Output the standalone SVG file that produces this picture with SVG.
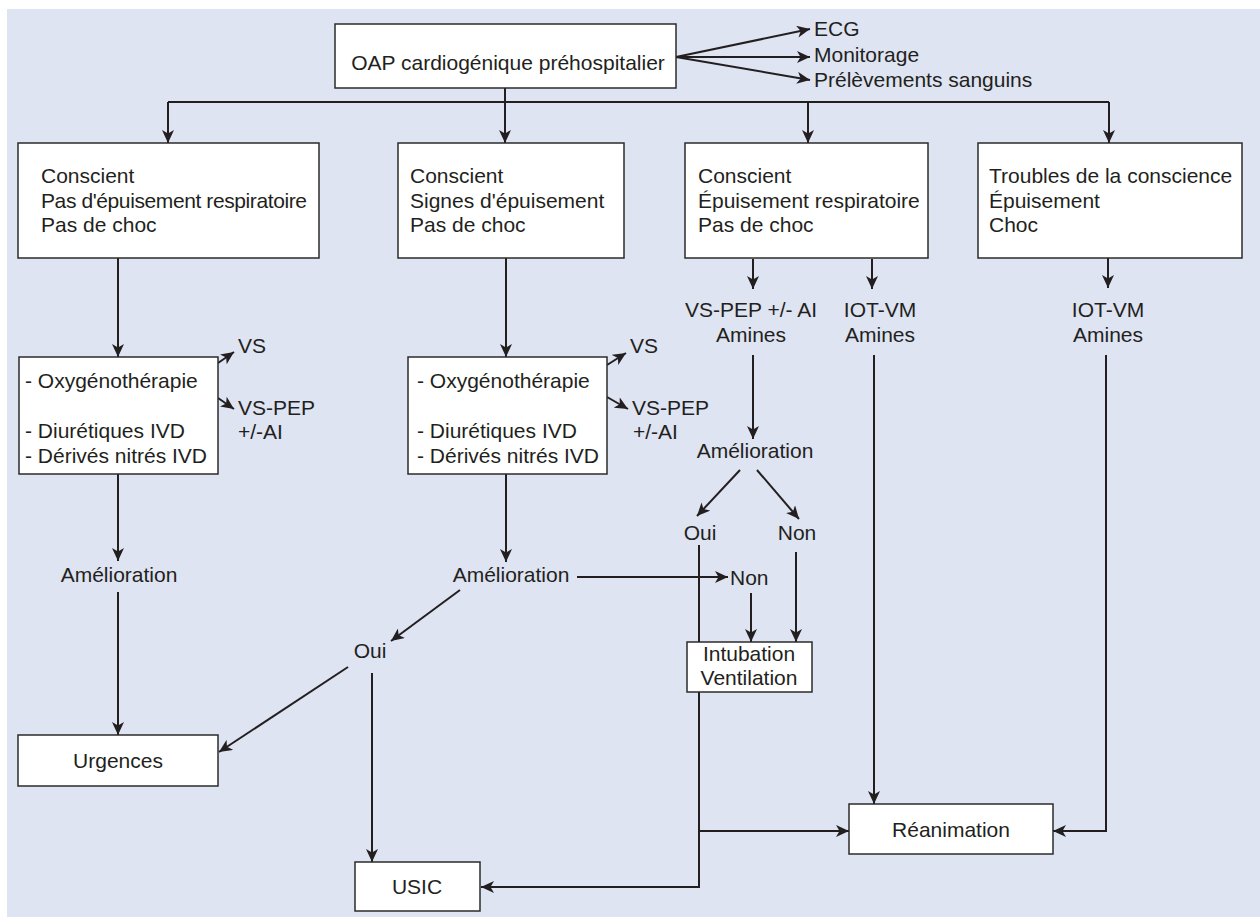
<svg xmlns="http://www.w3.org/2000/svg" width="1260" height="917" viewBox="0 0 1260 917">
<style>
.bg{fill:#dee4f2}
.box{fill:#ffffff;stroke:#2b2b2b;stroke-width:1.5}
.t{font-family:"Liberation Sans",Arial,Helvetica,sans-serif;font-size:21px;fill:#231f20}
.c{text-anchor:middle}
.ln{fill:none;stroke:#231f20;stroke-width:2;marker-end:url(#ah)}
.pl{fill:none;stroke:#231f20;stroke-width:2}
</style>
<defs>
<marker id="ah" markerUnits="userSpaceOnUse" markerWidth="14" markerHeight="12" refX="13" refY="6" orient="auto">
<path d="M0,0 L13,6 L0,12 L3.5,6 z" fill="#231f20"/>
</marker>
</defs>
<rect class="bg" x="7" y="9" width="1253" height="908"/>

<g id="connectors">
<path class="ln" d="M676,57 L810,29"/>
<path class="ln" d="M676,57 L810,57"/>
<path class="ln" d="M676,57 L810,80"/>
<path class="pl" d="M505,88 L505,102 M168,102 L1109,102"/>
<path class="ln" d="M168,102 L168,143"/>
<path class="ln" d="M505,102 L505,143"/>
<path class="ln" d="M808,102 L808,143"/>
<path class="ln" d="M1109,102 L1109,143"/>
<path class="ln" d="M118,258 L118,357"/>
<path class="ln" d="M506,258 L506,357"/>
<path class="ln" d="M218,363 L234,352"/>
<path class="ln" d="M218,398 L234,409"/>
<path class="ln" d="M607,365 L626,353"/>
<path class="ln" d="M607,397 L628,409"/>
<path class="ln" d="M118,474 L118,561"/>
<path class="ln" d="M118,592 L118,735"/>
<path class="ln" d="M506,474 L506,562"/>
<path class="ln" d="M577,577 L728,577"/>
<path class="ln" d="M460,590 L391,641"/>
<path class="ln" d="M348,667 L219,752"/>
<path class="ln" d="M372,673 L372,862"/>
<path class="ln" d="M753,259 L753,289"/>
<path class="ln" d="M872,259 L872,289"/>
<path class="ln" d="M1108,258 L1108,288"/>
<path class="ln" d="M753,355 L753,439"/>
<path class="ln" d="M740,470 L697,516"/>
<path class="ln" d="M757,470 L799,519"/>
<path class="ln" d="M751,593 L751,642"/>
<path class="ln" d="M796,552 L796,642"/>
<path class="ln" d="M699,545 L699,887 L481,887"/>
<path class="ln" d="M699,831 L849,831"/>
<path class="ln" d="M874,355 L874,804"/>
<path class="ln" d="M1106,355 L1106,831 L1053,831"/>
</g>

<g id="n-top"><rect class="box" x="335" y="24" width="341" height="64"/><text class="t c" x="508" y="70">OAP cardiogénique préhospitalier</text></g>
<g id="n-ecg"><text class="t" x="814" y="36">ECG</text></g>
<g id="n-monit"><text class="t" x="814" y="62">Monitorage</text></g>
<g id="n-prelev"><text class="t" x="814" y="87">Prélèvements sanguins</text></g>

<g id="n-b1"><rect class="box" x="18" y="143" width="301" height="115"/>
<text class="t" x="41" y="183">Conscient</text><text class="t" x="41" y="208" letter-spacing="-0.4">Pas d'épuisement respiratoire</text><text class="t" x="41" y="232">Pas de choc</text></g>
<g id="n-b2"><rect class="box" x="398" y="143" width="226" height="115"/>
<text class="t" x="410" y="183">Conscient</text><text class="t" x="410" y="208">Signes d'épuisement</text><text class="t" x="410" y="232">Pas de choc</text></g>
<g id="n-b3"><rect class="box" x="685" y="143" width="243" height="115"/>
<text class="t" x="698" y="183">Conscient</text><text class="t" x="698" y="208">Épuisement respiratoire</text><text class="t" x="698" y="232">Pas de choc</text></g>
<g id="n-b4"><rect class="box" x="978" y="143" width="264" height="115"/>
<text class="t" x="989" y="183">Troubles de la conscience</text><text class="t" x="989" y="208">Épuisement</text><text class="t" x="989" y="232">Choc</text></g>

<g id="n-t1"><rect class="box" x="19" y="357" width="199" height="117"/>
<text class="t" x="25" y="388">- Oxygénothérapie</text><text class="t" x="25" y="438">- Diurétiques IVD</text><text class="t" x="25" y="463">- Dérivés nitrés IVD</text></g>
<g id="n-vs1"><text class="t" x="238" y="353">VS</text></g>
<g id="n-vspep1"><text class="t" x="238" y="415">VS-PEP</text><text class="t" x="238" y="439">+/-AI</text></g>
<g id="n-t2"><rect class="box" x="408" y="357" width="199" height="117"/>
<text class="t" x="417" y="388">- Oxygénothérapie</text><text class="t" x="417" y="438">- Diurétiques IVD</text><text class="t" x="417" y="463">- Dérivés nitrés IVD</text></g>
<g id="n-vs2"><text class="t" x="630" y="353">VS</text></g>
<g id="n-vspep2"><text class="t" x="632" y="415">VS-PEP</text><text class="t" x="633" y="439">+/-AI</text></g>

<g id="n-vspep3"><text class="t c" x="751" y="317">VS-PEP +/- AI</text><text class="t c" x="751" y="342">Amines</text></g>
<g id="n-iot3"><text class="t c" x="880" y="317">IOT-VM</text><text class="t c" x="880" y="342">Amines</text></g>
<g id="n-iot4"><text class="t c" x="1108" y="317">IOT-VM</text><text class="t c" x="1108" y="342">Amines</text></g>

<g id="n-amel1"><text class="t c" x="119" y="582">Amélioration</text></g>
<g id="n-amel2"><text class="t c" x="511" y="582">Amélioration</text></g>
<g id="n-amel3"><text class="t c" x="755" y="458">Amélioration</text></g>
<g id="n-oui2"><text class="t c" x="370" y="658">Oui</text></g>
<g id="n-non2"><text class="t" x="730" y="585">Non</text></g>
<g id="n-oui3"><text class="t c" x="700" y="540">Oui</text></g>
<g id="n-non3"><text class="t c" x="797" y="540">Non</text></g>

<g id="n-intub"><rect class="box" x="687" y="642" width="125" height="50"/>
<text class="t c" x="749" y="661">Intubation</text><text class="t c" x="749" y="685">Ventilation</text></g>
<g id="n-urg"><rect class="box" x="18" y="735" width="200" height="51"/><text class="t c" x="118" y="768">Urgences</text></g>
<g id="n-usic"><rect class="box" x="355" y="862" width="125" height="49"/><text class="t c" x="417" y="894">USIC</text></g>
<g id="n-rea"><rect class="box" x="849" y="804" width="204" height="50"/><text class="t c" x="951" y="837">Réanimation</text></g>
</svg>
